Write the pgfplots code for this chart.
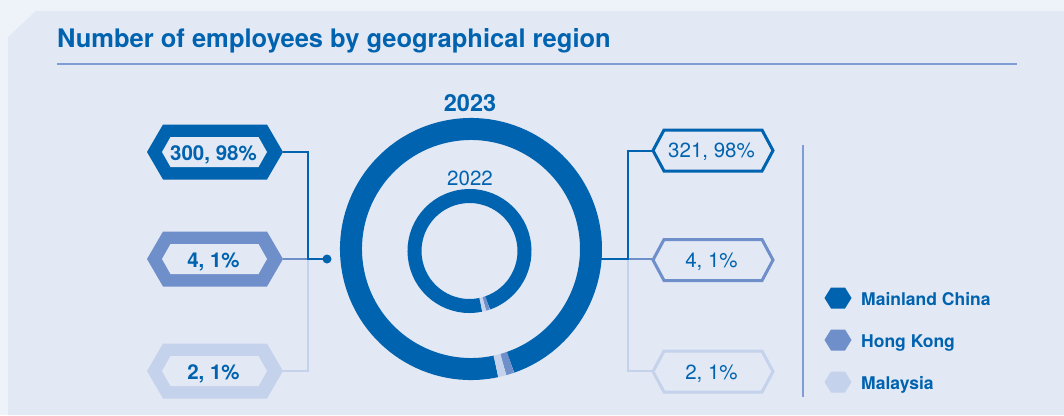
\documentclass[border=0pt]{standalone}
\usepackage{fontspec}
\setmainfont{TeX Gyre Heros}
\usepackage{pgfplots}
\usepackage{pgfplotstable}
\pgfplotsset{compat=1.18}

\definecolor{mainland}{HTML}{0063AF}
\definecolor{hongkong}{HTML}{6E8FCA}
\definecolor{malaysia}{HTML}{C5D2EB}
\definecolor{panel}{HTML}{E3E8F5}
\definecolor{outerbg}{HTML}{EEF2F9}
\definecolor{rulecol}{HTML}{7E9DD4}

% employees and shares (%) by region
\pgfplotstableread{
region   v2022 p2022 v2023 p2023
Mainland 300   98    321   98
HongKong 4     1     4     1
Malaysia 2     1     2     1
}\empdata

% ring angles, clockwise from -78 deg
\def\startang{-78}
\pgfplotstablegetelem{0}{p2023}\of\empdata\pgfmathsetmacro\oA{\startang-3.6*\pgfplotsretval}
\pgfplotstablegetelem{1}{p2023}\of\empdata\pgfmathsetmacro\oB{\oA-3.6*\pgfplotsretval}
\pgfplotstablegetelem{2}{p2023}\of\empdata\pgfmathsetmacro\oC{\oB-3.6*\pgfplotsretval}
\pgfplotstablegetelem{0}{p2022}\of\empdata\pgfmathsetmacro\iA{\startang-3.6*\pgfplotsretval}
\pgfplotstablegetelem{1}{p2022}\of\empdata\pgfmathsetmacro\iB{\iA-3.6*\pgfplotsretval}
\pgfplotstablegetelem{2}{p2022}\of\empdata\pgfmathsetmacro\iC{\iB-3.6*\pgfplotsretval}

% hexagon: style, cx, cy, half width, half height, slant
\newcommand{\hexa}[6]{%
  \path[#1] (axis cs:#2,#3) ++(-#4pt,0pt) -- ++(#6pt,#5pt)
    -- ++({2*(#4-#6)*1pt},0pt) -- ++(#6pt,-#5pt) -- ++(-#6pt,-#5pt)
    -- ++({-2*(#4-#6)*1pt},0pt) -- cycle;}

\begin{document}
\begin{tikzpicture}
\begin{axis}[
    width=1064pt, height=415pt, scale only axis,
    xmin=0, xmax=1064, ymin=0, ymax=415,
    y dir=reverse, hide axis, clip=false,
]
% background
\fill[outerbg] (axis cs:0,0) rectangle (axis cs:1064,415);
\fill[panel] (axis cs:8,37) -- (axis cs:36,11) -- (axis cs:1064,11)
  -- (axis cs:1064,415) -- (axis cs:8,415) -- cycle;

% title
\node[anchor=base west, inner sep=0pt, text=mainland, font=\bfseries\fontsize{25.5}{30}\selectfont]
  at (axis cs:57,47.5) {Number of employees by geographical region};
\draw[rulecol, line width=2pt] (axis cs:57,64) -- (axis cs:1017,64);

% outer ring (2023)
\draw[mainland, line width=22pt] (axis cs:471,249) ++(\startang:120pt)
  arc[start angle=\startang, end angle=\oA, radius=120pt];
\draw[hongkong, line width=22pt] (axis cs:471,249) ++(\oA:120pt)
  arc[start angle=\oA, end angle=\oB, radius=120pt];
\draw[malaysia, line width=22pt] (axis cs:471,249) ++(\oB:120pt)
  arc[start angle=\oB, end angle=\oC, radius=120pt];
% inner ring (2022)
\draw[mainland, line width=14pt] (axis cs:469.5,251) ++(\startang:55pt)
  arc[start angle=\startang, end angle=\iA, radius=55pt];
\draw[hongkong, line width=14pt] (axis cs:469.5,251) ++(\iA:55pt)
  arc[start angle=\iA, end angle=\iB, radius=55pt];
\draw[malaysia, line width=14pt] (axis cs:469.5,251) ++(\iB:55pt)
  arc[start angle=\iB, end angle=\iC, radius=55pt];

\node[anchor=base, text=mainland, font=\bfseries\fontsize{23.5}{28}\selectfont]
  at (axis cs:470,111.5) {2023};
\node[anchor=base, text=mainland, font=\fontsize{20.5}{24}\selectfont]
  at (axis cs:470,185) {2022};

% left connectors
\draw[malaysia, line width=2pt] (axis cs:308,259) -- (axis cs:308,371) -- (axis cs:283,371);
\draw[hongkong, line width=2pt] (axis cs:283,259) -- (axis cs:308,259);
\draw[mainland, line width=2pt] (axis cs:283,152) -- (axis cs:308,152)
  -- (axis cs:308,259) -- (axis cs:327,259);
\fill[mainland] (axis cs:327,259) circle[radius=4.5pt];

% left labels
\hexa{fill=mainland}{215}{152}{68}{27.5}{16}
\hexa{fill=panel}{214.5}{152}{52.5}{15}{8.5}
\hexa{fill=hongkong}{215}{259}{68}{27.5}{16}
\hexa{fill=panel}{214.5}{259}{52.5}{15}{8.5}
\hexa{fill=malaysia}{215}{371}{68}{27.5}{16}
\hexa{fill=panel}{214.5}{371}{52.5}{15}{8.5}
\node[anchor=base, text=mainland, font=\bfseries\fontsize{20.5}{24}\selectfont]
  at (axis cs:213.5,160) {300, 98\%};
\node[anchor=base, text=mainland, font=\bfseries\fontsize{20.5}{24}\selectfont]
  at (axis cs:213.5,267) {4, 1\%};
\node[anchor=base, text=mainland, font=\bfseries\fontsize{20.5}{24}\selectfont]
  at (axis cs:213.5,379) {2, 1\%};

% right connectors
\draw[malaysia, line width=2pt] (axis cs:628,259) -- (axis cs:628,371) -- (axis cs:652,371);
\draw[hongkong, line width=2pt] (axis cs:628,259) -- (axis cs:652,259);
\draw[mainland, line width=2pt] (axis cs:601,259) -- (axis cs:628,259)
  -- (axis cs:628,151) -- (axis cs:652,151);

% right labels
\hexa{draw=mainland, line width=3pt, fill=panel}{713}{150.5}{60}{20.5}{11}
\hexa{draw=hongkong, line width=3pt, fill=panel}{713}{260}{60}{20.5}{11}
\hexa{draw=malaysia, line width=3pt, fill=panel}{713}{371.5}{60}{20.5}{11}
\node[anchor=base, text=mainland, font=\fontsize{20.5}{24}\selectfont]
  at (axis cs:711.5,157) {321, 98\%};
\node[anchor=base, text=mainland, font=\fontsize{20.5}{24}\selectfont]
  at (axis cs:711.5,267) {4, 1\%};
\node[anchor=base, text=mainland, font=\fontsize{20.5}{24}\selectfont]
  at (axis cs:711.5,379) {2, 1\%};

% legend
\draw[rulecol, line width=2pt] (axis cs:803,145) -- (axis cs:803,397);
\hexa{fill=mainland}{838}{298}{13.5}{10.5}{6.5}
\hexa{fill=hongkong}{838}{340}{13.5}{10.5}{6.5}
\hexa{fill=malaysia}{838}{382}{13.5}{10.5}{6.5}
\node[anchor=base west, inner sep=0pt, text=mainland, font=\bfseries\fontsize{17.5}{20}\selectfont]
  at (axis cs:861,305) {Mainland China};
\node[anchor=base west, inner sep=0pt, text=mainland, font=\bfseries\fontsize{17.5}{20}\selectfont]
  at (axis cs:861,347) {Hong Kong};
\node[anchor=base west, inner sep=0pt, text=mainland, font=\bfseries\fontsize{17.5}{20}\selectfont]
  at (axis cs:861,389) {Malaysia};
\end{axis}
\end{tikzpicture}
\end{document}
